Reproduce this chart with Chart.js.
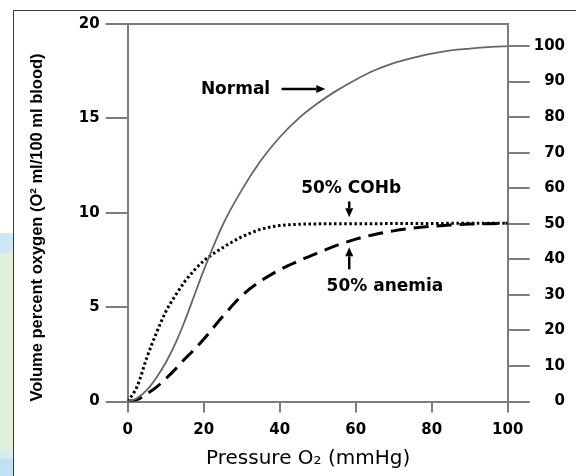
<!DOCTYPE html>
<html>
<head>
<meta charset="utf-8">
<script src="https://cdn.jsdelivr.net/npm/chart.js@4.4.1/dist/chart.umd.min.js"></script>
<style>
  body { margin: 0; background: #fff; }
  canvas { display: block; }
</style>
</head>
<body>
<canvas id="myChart" width="576" height="476"></canvas>
<script>
// data
var pressure = [0, 2.5, 5, 7.5, 10, 12.5, 15, 17.5, 20, 25, 30, 35, 40, 45, 50, 55, 60, 65, 70, 75, 80, 85, 90, 95, 100];
var normal   = [0, 0.18, 0.6, 1.25, 2.05, 3.05, 4.25, 5.6, 6.95, 9.35, 11.2, 12.75, 14.0, 15.0, 15.8, 16.47, 17.05, 17.55, 17.93, 18.2, 18.43, 18.6, 18.7, 18.78, 18.83];
var coHb     = [0, 0.8, 2.3, 3.6, 4.75, 5.6, 6.35, 6.95, 7.45, 8.15, 8.72, 9.12, 9.32, 9.39, 9.41, 9.42, 9.42, 9.42, 9.43, 9.43, 9.43, 9.44, 9.44, 9.44, 9.44];
var anemia   = [0, 0.1, 0.4, 0.75, 1.2, 1.7, 2.25, 2.75, 3.3, 4.5, 5.6, 6.38, 6.98, 7.45, 7.87, 8.27, 8.6, 8.85, 9.04, 9.18, 9.28, 9.35, 9.4, 9.42, 9.44];

var xTicks = [0, 20, 40, 60, 80, 100];
var leftTicks = [0, 5, 10, 15, 20];
var rightTicks = [0, 10, 20, 30, 40, 50, 60, 70, 80, 90, 100];
var rightMax = 106.2; // right 100 sits at left 18.83

function pts(ys) {
    return pressure.map(function(p, i) { return { x: p, y: ys[i] }; });
}

var axisGray = '#7c7c7c';
var tickFont = { family: 'DejaVu Sans', weight: 'bold', size: 15 };

// frame and band behind the chart
var framePlugin = {
    id: 'frame',
    beforeDraw: function(chart) {
        var c = chart.ctx;
        c.save();
        c.fillStyle = '#fff';
        c.fillRect(0, 0, chart.width, chart.height);
        c.fillStyle = '#cfe6f5'; c.fillRect(0, 233, 13, 20);
        c.fillStyle = '#e3f0d9'; c.fillRect(0, 253, 13, 197);
        c.fillStyle = '#d6ecee'; c.fillRect(0, 450, 13, 9);
        c.fillStyle = '#c3e0f3'; c.fillRect(0, 459, 13, 17);
        c.strokeStyle = '#3a3a3a';
        c.lineWidth = 1;
        c.beginPath();
        c.moveTo(13.5, 476); c.lineTo(13.5, 10.5); c.lineTo(576, 10.5);
        c.stroke();
        c.restore();
    },
    afterDraw: function(chart) {
        var c = chart.ctx, a = chart.chartArea;
        c.save();
        c.strokeStyle = axisGray;
        c.lineWidth = 2;
        c.beginPath();
        c.moveTo(a.left - 1, a.top); c.lineTo(a.right + 1, a.top);
        c.stroke();
        c.restore();
    }
};

function arrow(c, x1, y1, x2, y2) {
    var ang = Math.atan2(y2 - y1, x2 - x1);
    var hl = 9, hw = 4;
    var bx = x2 - hl * Math.cos(ang), by = y2 - hl * Math.sin(ang);
    c.beginPath();
    c.moveTo(x1, y1); c.lineTo(bx, by);
    c.stroke();
    c.beginPath();
    c.moveTo(x2, y2);
    c.lineTo(bx + hw * Math.sin(ang), by - hw * Math.cos(ang));
    c.lineTo(bx - hw * Math.sin(ang), by + hw * Math.cos(ang));
    c.closePath();
    c.fill();
}

// curve labels with arrows
var labelPlugin = {
    id: 'labels',
    afterDatasetsDraw: function(chart) {
        var c = chart.ctx, x = chart.scales.x, y = chart.scales.y;
        c.save();
        c.fillStyle = '#000';
        c.strokeStyle = '#000';
        c.lineWidth = 2.5;
        c.font = 'bold 17px "DejaVu Sans"';
        c.textBaseline = 'middle';

        c.textAlign = 'right';
        c.fillText('Normal', x.getPixelForValue(37.5), y.getPixelForValue(16.5));
        arrow(c, x.getPixelForValue(40.5), y.getPixelForValue(16.55), x.getPixelForValue(52), y.getPixelForValue(16.55));

        c.textAlign = 'center';
        c.fillText('50% COHb', x.getPixelForValue(58.8), y.getPixelForValue(11.3));
        arrow(c, x.getPixelForValue(58.3), y.getPixelForValue(10.6), x.getPixelForValue(58.3), y.getPixelForValue(9.76));

        c.fillText('50% anemia', x.getPixelForValue(67.7), y.getPixelForValue(6.1));
        arrow(c, x.getPixelForValue(58.3), y.getPixelForValue(7.0), x.getPixelForValue(58.3), y.getPixelForValue(8.17));
        c.restore();
    }
};

function onlyValues(list) {
    return function(scale) {
        scale.ticks = list.map(function(v) { return { value: v }; });
    };
}

var ctx = document.getElementById('myChart').getContext('2d');
var myChart = new Chart(ctx, {
    type: 'line',
    data: {
        datasets: [{
            label: 'Normal',
            data: pts(normal),
            borderColor: '#666',
            borderWidth: 1.8,
            pointRadius: 0,
            cubicInterpolationMode: 'monotone'
        }, {
            label: '50% COHb',
            data: pts(coHb),
            borderColor: '#000',
            borderWidth: 3,
            borderDash: [2.5, 2.6],
            pointRadius: 0,
            cubicInterpolationMode: 'monotone'
        }, {
            label: '50% anemia',
            data: pts(anemia),
            borderColor: '#000',
            borderWidth: 3,
            borderDash: [15, 8],
            pointRadius: 0,
            cubicInterpolationMode: 'monotone'
        }]
    },
    options: {
        responsive: false,
        animation: false,
        devicePixelRatio: 1,
        layout: { padding: { left: 23, right: 11, top: 24, bottom: 7.5 } },
        plugins: { legend: { display: false }, tooltip: { enabled: false } },
        scales: {
            x: {
                type: 'linear',
                min: 0, max: 100,
                afterBuildTicks: onlyValues(xTicks),
                grid: { drawOnChartArea: false, color: axisGray, lineWidth: 2, tickLength: 11 },
                border: { color: axisGray, width: 2 },
                ticks: { color: '#000', font: { family: 'DejaVu Sans', weight: 'bold', size: 15, lineHeight: 1 }, padding: 10.5, maxRotation: 0 },
                title: {
                    display: true,
                    text: 'Pressure O₂ (mmHg)   ',
                    color: '#000',
                    font: { family: 'DejaVu Sans', size: 20, lineHeight: 1 },
                    padding: { top: 0, bottom: 0 }
                }
            },
            y: {
                position: 'left',
                min: 0, max: 20,
                afterBuildTicks: onlyValues(leftTicks),
                grid: { drawOnChartArea: false, color: axisGray, lineWidth: 2, tickLength: 22 },
                border: { color: axisGray, width: 2 },
                ticks: { color: '#000', font: tickFont, padding: 6 },
                title: {
                    display: true,
                    align: 'start',
                    text: 'Volume percent oxygen (O² ml/100 ml blood)',
                    color: '#000',
                    font: { family: 'Liberation Sans', weight: 'bold', size: 16.5 },
                    padding: { top: 5, bottom: 25 }
                }
            },
            y2: {
                position: 'right',
                min: 0, max: rightMax,
                afterBuildTicks: onlyValues(rightTicks),
                grid: { drawOnChartArea: false, color: axisGray, lineWidth: 2, tickLength: 22 },
                border: { color: axisGray, width: 2 },
                ticks: { color: '#000', font: tickFont, padding: 2, crossAlign: 'far' }
            }
        }
    },
    plugins: [framePlugin, labelPlugin]
});
</script>
</body>
</html>
